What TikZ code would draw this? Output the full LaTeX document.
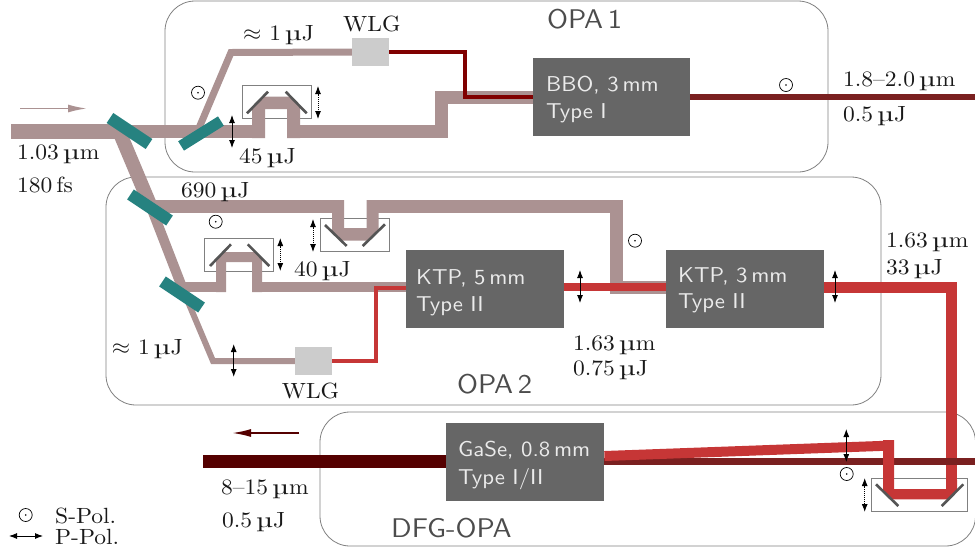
\documentclass[tikz,border=0pt]{standalone}
\usepackage{graphicx}
\usetikzlibrary{arrows.meta}
\definecolor{pump}{HTML}{AB9292}
\definecolor{teal1}{HTML}{268280}
\definecolor{crys}{HTML}{666666}
\definecolor{wlgc}{HTML}{CCCCCC}
\definecolor{redb}{HTML}{C63636}
\definecolor{maroon1}{HTML}{800000}
\definecolor{outd}{HTML}{7A2020}
\definecolor{idler}{HTML}{550000}
\definecolor{mirr}{HTML}{555555}
\definecolor{frame}{HTML}{808080}
\newcommand{\wmu}{\scalebox{1.3}[1]{\textmu}}
\newcommand{\um}{\,\wmu m}
\newcommand{\uJ}{\,\wmu J}
\newcommand{\lbl}[1]{\scalebox{2.35}[2.2]{\fontsize{10}{12}\selectfont #1}}
\newcommand{\boxlab}[1]{\scalebox{2.28}[2.15]{\fontsize{10}{12}\sffamily\selectfont #1}}
\newcommand{\ttl}[1]{\scalebox{2.85}[2.7]{\fontsize{10}{12}\sffamily\selectfont #1}}
\tikzset{
  x=1pt,y=-1pt,
  beam/.style={line join=miter,line cap=butt},
  pumpb/.style={beam,draw=pump},
  panel/.style={draw=frame,line width=0.8pt,rounded corners=30pt},
  crystal/.style={fill=crys,inner sep=0pt,anchor=north west},
  wlgbox/.style={fill=wlgc,inner sep=0pt,minimum width=37pt,minimum height=28pt},
  splitter/.style={fill=teal1,inner sep=0pt,minimum width=47pt,minimum height=12pt},
  retro/.style={draw=frame,line width=1pt,inner sep=0pt,minimum width=69pt,minimum height=33pt},
  mirrorline/.style={draw=mirr,line width=2.6pt},
  pol/.style={draw=black,line width=0.9pt,{Latex[length=8pt,width=6pt]}-{Latex[length=8pt,width=6pt]}},
  pold/.style={draw=black,line width=0.9pt,densely dotted,{Latex[length=8pt,width=6pt]}-{Latex[length=8pt,width=6pt]}},
  polcirc/.style={draw=black,line width=0.7pt,circle,minimum size=13pt,inner sep=0pt,
     path picture={\fill (path picture bounding box.center) circle (0.9pt);}},
  lab/.style={anchor=base west,inner sep=0pt,text=black!90},
  blab/.style={anchor=base west,inner sep=0pt,text=white!92!black},
  title/.style={anchor=base west,inner sep=0pt,text=black!70},
}
\begin{document}
\begin{tikzpicture}
\useasboundingbox (0,0) rectangle (975,550);
% panels
\draw[panel] (165,1) rectangle (828,172);
\draw[panel] (106,177) rectangle (881,405);
\draw[panel] (320,412) rectangle (975.5,546);
% retro frames
\node[retro] (r1) at (276.8,102.4) {};
\node[retro] (r2) at (354.8,235.4) {};
\node[retro] (r3) at (239.2,255.2) {};
\node[retro,minimum width=96pt] (r4) at (919.7,495.2) {};
% crystals
\node[crystal,minimum width=157pt,minimum height=78pt] (bbo) at (533,58) {};
\node[crystal,minimum width=158pt,minimum height=77.5pt] (ktpa) at (406,250) {};
\node[crystal,minimum width=158pt,minimum height=77.5pt] (ktpb) at (666,250) {};
\node[crystal,minimum width=158pt,minimum height=78pt] (gase) at (446,423) {};
\node[wlgbox] (wa) at (370.5,52) {};
\node[wlgbox] (wb) at (313.5,361) {};
% OPA1 beams
\draw[pumpb,line width=15pt] (11,131) -- (118,131);
\draw[pumpb,line width=13pt] (110,131.5) -- (265,131.5);
\fill[pump] (252,138) -- (252,108) -- (263.7,96.5) -- (290.4,96.5) -- (300,106.4) -- (300,138) -- (287,138) -- (287,109) -- (265,109) -- (265,138) -- cycle;
\draw[pumpb,line width=13pt] (287,131.5) -- (441.5,131.5) -- (441.5,97) -- (bbo.west |- 0,97);
\draw[pumpb,line width=7pt] (199,128) -- (231,52.5) -- (wa.west);
\draw[beam,draw=maroon1,line width=4pt] (wa.east) -- (465,52) -- (465,97) -- (bbo.west |- 0,97);
\draw[beam,draw=outd,line width=6pt] (bbo.east |- 0,96.5) -- (975,96.5);
% down beam
\draw[pumpb,line width=14pt] (119,131) -- (151,207);
\draw[pumpb,line width=13pt] (150,206.5) -- (338,206.5);
\fill[pump] (332,200) -- (332,231.8) -- (341.2,240.7) -- (368.1,240.7) -- (378.7,230.4) -- (378.7,200) -- (366.7,200) -- (366.7,228) -- (344,228) -- (344,200) -- cycle;
\draw[pumpb,line width=13pt] (372.5,206.5) -- (616,206.5) -- (616,287.5) -- (ktpb.west |- 0,287.5);
\draw[pumpb,line width=10pt] (151,207) -- (182,287);
\draw[pumpb,line width=9.5pt] (179,287) -- (221,287);
\fill[pump] (216,292) -- (216,259.8) -- (223.5,252) -- (255.4,252) -- (262,258.7) -- (262,292) -- (252,292) -- (252,262) -- (226,262) -- (226,292) -- cycle;
\draw[pumpb,line width=9.5pt] (257,287) -- (ktpa.west |- 0,287);
\draw[pumpb,line width=6pt] (183,290) -- (213,361) -- (wb.west);
\draw[beam,draw=redb,line width=4pt] (wb.east) -- (376,361) -- (376,288) -- (ktpa.west |- 0,288);
\draw[beam,draw=redb,line width=7.7pt] (ktpa.east |- 0,287) -- (ktpb.west |- 0,287);
% DFG beams
\draw[beam,draw=redb,line width=11pt] (ktpb.east |- 0,287.5) -- (951.5,287.5) -- (951.5,489);
\draw[beam,draw=outd,line width=6.5pt] (gase.east |- 0,461.5) -- (975,461.5);
\draw[beam,draw=idler,line width=13pt] (203,461.5) -- (gase.west |- 0,461.5);
\fill[redb] (883,440) -- (883,491.1) -- (891.4,499.3) -- (948.4,499.3) -- (957,490.6) -- (957,480) -- (946,480) -- (946,489) -- (894,489) -- (894,440) -- cycle;
\draw[beam,draw=redb,line width=10pt] (gase.east |- 0,456) -- (893,445.5);
% mirrors
\draw[mirrorline] (247,113.3) -- (268,91.7);
\draw[mirrorline] (285.7,91.7) -- (306.7,113.3);
\draw[mirrorline] (325,225) -- (346.7,246);
\draw[mirrorline] (362.7,246) -- (385,224.3);
\draw[mirrorline] (210,266) -- (231,244.3);
\draw[mirrorline] (247.7,244.3) -- (269.3,266);
\draw[mirrorline] (876,484.3) -- (898.3,506);
\draw[mirrorline] (941.7,506) -- (963.3,484.3);
% splitters
\node[splitter,rotate=-33.7] (s1) at (129.5,131) {};
\node[splitter,rotate=32,minimum height=11pt] (s2) at (201,133.5) {};
\node[splitter,rotate=-33.7] (s3) at (150,207.5) {};
\node[splitter,rotate=-33.7] (s4) at (182,294.5) {};
% direction arrows
\draw[draw=pump,line width=1.8pt,-{Latex[length=19pt,width=8pt]}] (20,108.5) coordinate (d1) -- (87,108.5) coordinate (d2);
\draw[draw=idler,line width=1.8pt,-{Latex[length=19pt,width=8pt]}] (299,433) coordinate (d3) -- (232,433) coordinate (d4);
% polarisation
\draw[pol] (232,115) -- (232,148);
\draw[pol] (233.7,344) -- (233.7,377);
\draw[pol] (580,270) -- (580,303);
\draw[pol] (835,270) -- (835,303);
\draw[pol] (846.3,429) -- (846.3,462);
\draw[pol] (9,536) -- (43,536);
\draw[pold] (318,86) -- (318,119);
\draw[pold] (313,219) -- (313,252);
\draw[pold] (280.3,238) -- (280.3,271);
\draw[pold] (864.7,478) -- (864.7,512);
\node[polcirc] (c1) at (198,92.7) {};
\node[polcirc] (c2) at (215.7,221.7) {};
\node[polcirc] (c3) at (635,240.7) {};
\node[polcirc] (c4) at (846.7,474) {};
\node[polcirc] (c5) at (786,85) {};
\node[polcirc] (c6) at (25.7,515) {};
% labels
\node[lab] (t1) at (243,40) {\lbl{$\approx$ 1\uJ}};
\node[lab] (t2) at (343,31) {\lbl{WLG}};
\node[lab] (t3) at (239,163) {\lbl{45\uJ}};
\node[lab] (t4) at (17,159) {\lbl{1.03\um}};
\node[lab] (t5) at (17,192) {\lbl{180\,fs}};
\node[lab] (t6) at (181,197) {\lbl{690\uJ}};
\node[lab] (t7) at (294,276) {\lbl{40\uJ}};
\node[lab] (t8) at (111.7,354) {\lbl{$\approx$ 1\uJ}};
\node[lab] (t9) at (281.7,398) {\lbl{WLG}};
\node[lab] (t10) at (573,350) {\lbl{1.63\um}};
\node[lab] (t11) at (573,375) {\lbl{0.75\uJ}};
\node[lab] (t12) at (886,247) {\lbl{1.63\um}};
\node[lab] (t13) at (886,274) {\lbl{33\uJ}};
\node[lab] (t14) at (843,86) {\lbl{1.8--2.0\um}};
\node[lab] (t15) at (843,121) {\lbl{0.5\uJ}};
\node[lab] (t16) at (221,494) {\lbl{8--15\um}};
\node[lab] (t17) at (222,527) {\lbl{0.5\uJ}};
\node[lab] (t18) at (55,523) {\lbl{S-Pol.}};
\node[lab] (t19) at (55,544) {\lbl{P-Pol.}};
\node[title] (o1) at (547,28) {\ttl{OPA\,1}};
\node[title] (o2) at (457,393) {\ttl{OPA\,2}};
\node[title] (o3) at (391,537) {\ttl{DFG-OPA}};
\node[blab] (b1) at (546,91) {\boxlab{BBO, 3\,mm}};
\node[blab] (b2) at (546,118) {\boxlab{Type I}};
\node[blab] (b3) at (416,284) {\boxlab{KTP, 5\,mm}};
\node[blab] (b4) at (416,311) {\boxlab{Type II}};
\node[blab] (b5) at (678,282) {\boxlab{KTP, 3\,mm}};
\node[blab] (b6) at (678,308) {\boxlab{Type II}};
\node[blab] (b7) at (458,456) {\boxlab{GaSe, 0.8\,mm}};
\node[blab] (b8) at (458,484) {\boxlab{Type I/II}};
\end{tikzpicture}
\end{document}
